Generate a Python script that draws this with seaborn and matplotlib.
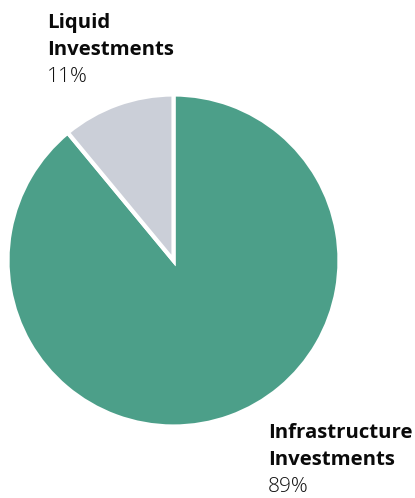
import matplotlib
matplotlib.use("Agg")
import matplotlib.pyplot as plt
import seaborn as sns

# Portfolio allocation
categories = ["Infrastructure\nInvestments", "Liquid\nInvestments"]
shares = [89, 11]
colors = ["#4c9f89", "#cbcfd8"]

sns.set_theme(style="white")
plt.rcParams["font.family"] = ["Open Sans", "DejaVu Sans"]

W, H = 415, 498
fig = plt.figure(figsize=(W / 100, H / 100), dpi=100)

# Pie centred at (173.5, 260.5) px from top-left; white wedge outline eats ~1.5 px
cx, cy, r = 173.5, 260.5, 166
ax = fig.add_axes([(cx - r) / W, (H - cy - r) / H, 2 * r / W, 2 * r / H])
ax.pie(
    shares,
    colors=colors,
    startangle=90,
    counterclock=False,
    radius=1,
    wedgeprops=dict(edgecolor="white", linewidth=3),
)
ax.set_xlim(-1, 1)
ax.set_ylim(-1, 1)
ax.set_aspect("equal")
ax.axis("off")

def label(x_px, base_px, name, pct):
    # name lines (bold) with baselines stepping 27px, then the percentage
    lines = name.split("\n")
    for i, line in enumerate(lines):
        fig.text(x_px / W, 1 - (base_px + 27 * i) / H, line,
                 fontsize=14.7, fontweight="bold", color="#0a0a0a",
                 ha="left", va="baseline")
    fig.text(x_px / W, 1 - (base_px + 27 * len(lines)) / H, f"{pct}%",
             fontsize=15, fontweight="light", color="#111111",
             ha="left", va="baseline")

label(47, 28, categories[1], shares[1])
label(268, 438, categories[0], shares[0])

fig.savefig("out.png", dpi=100, facecolor="white")
